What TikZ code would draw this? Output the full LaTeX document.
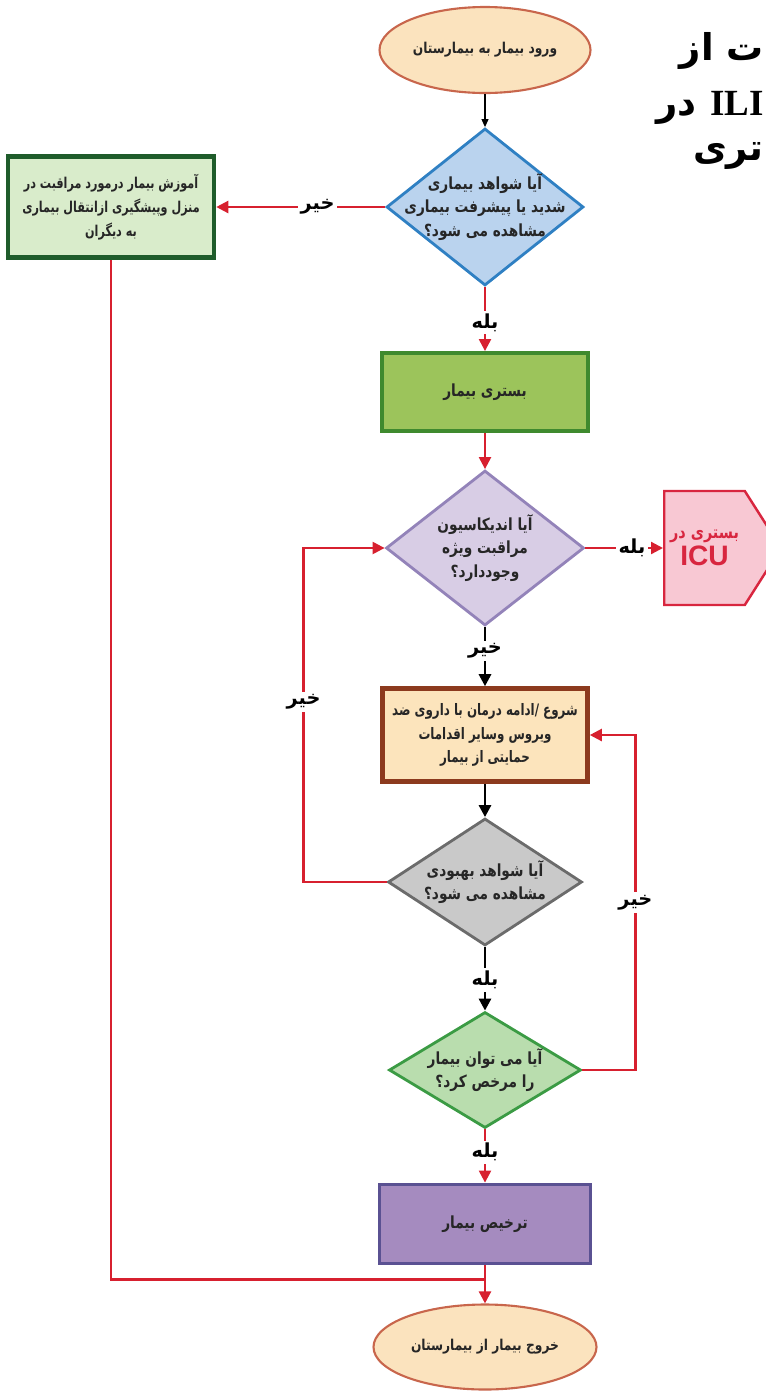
\documentclass[tikz,border=0pt]{standalone}
\usepackage{fontspec}
\usepackage{graphicx}
\usepackage{tikz}
\usetikzlibrary{shapes.geometric,shapes.symbols,arrows.meta,calc}
\TeXXeTstate=1
\newfontfamily\fa[Script=Arabic]{DejaVu Sans}
\newfontfamily\lsans{Liberation Sans}
\newfontfamily\lserif{Liberation Serif}
\newcommand{\rl}[1]{\beginR #1\endR}
\newcommand{\rls}[1]{\scalebox{0.82}[1]{\beginR #1\endR}}
\newcommand{\rlt}[1]{\scalebox{0.75}[1]{\beginR #1\endR}}

\definecolor{linered}{HTML}{D7202F}
\definecolor{ovalfill}{HTML}{FBE3BE}
\definecolor{ovaldraw}{HTML}{C8664C}
\definecolor{bluefill}{HTML}{BAD3EE}
\definecolor{bluedraw}{HTML}{2F80C3}
\definecolor{edufill}{HTML}{D9ECCB}
\definecolor{edudraw}{HTML}{1F5C2B}
\definecolor{admitfill}{HTML}{9CC45B}
\definecolor{admitdraw}{HTML}{3F8A2E}
\definecolor{lilacfill}{HTML}{D8CDE5}
\definecolor{lilacdraw}{HTML}{9383B9}
\definecolor{icufill}{HTML}{F8C8D3}
\definecolor{icudraw}{HTML}{D8263F}
\definecolor{carefill}{HTML}{FCE4BC}
\definecolor{caredraw}{HTML}{8C3A1E}
\definecolor{greyfill}{HTML}{C9C9C9}
\definecolor{greydraw}{HTML}{6B6B6B}
\definecolor{mintfill}{HTML}{B9DDAE}
\definecolor{mintdraw}{HTML}{3B9B44}
\definecolor{violetfill}{HTML}{A58BBF}
\definecolor{violetdraw}{HTML}{5A5192}

\begin{document}
\begin{tikzpicture}[x=0.2mm,y=-0.2mm,
  txt/.style={font=\fa\bfseries\fontsize{9.5}{13.5}\selectfont, align=center, text=black!85, inner sep=0pt},
  lbl/.style={font=\fa\bfseries\fontsize{11}{13}\selectfont, fill=white, inner sep=1.5pt},
  oval/.style={ellipse, draw=ovaldraw, fill=ovalfill, line width=1.2pt, txt, font=\fa\bfseries\fontsize{8.5}{12}\selectfont},
  box/.style={rectangle, txt},
  dia/.style={diamond, line width=1.6pt, inner sep=0pt},
  redline/.style={draw=linered, line width=1.3pt},
  redarrow/.style={redline, -{Triangle[length=2.4mm,width=2.4mm]}},
  blkarrow/.style={line width=1.6pt, -{Triangle[length=2.4mm,width=2.4mm]}},
  thinarrow/.style={line width=0.6pt, -{Triangle[length=1.6mm,width=1.4mm]}},
  titletxt/.style={font=\bfseries\fontsize{21}{24}\selectfont, inner sep=0pt}]
  \useasboundingbox (0,0) rectangle (766,1394);

  % title at the right edge
  \node[titletxt, anchor=base east] (title1) at (764,60) {\fa\bfseries\rl{ت از}};
  \node[titletxt, anchor=base east] (title2) at (764,115) {{\fa\bfseries\rl{در}} {\lserif\bfseries ILI}};
  \node[titletxt, anchor=base east] (title3) at (764,160) {\fa\bfseries\rl{تری}};

  \node[oval, minimum width=42.2mm, minimum height=17.2mm] (entry) at (485,50) {\rls{ورود بیمار به بیمارستان}};

  \node[dia, draw=bluedraw, fill=bluefill, minimum width=39.4mm, minimum height=31.4mm] (q1) at (485,207) {};
  \node[txt] (q1t) at (q1) {\rls{آیا شواهد بیماری}\\\rls{شدید یا پیشرفت بیماری}\\\rls{مشاهده می شود؟}};

  \node[box, draw=edudraw, fill=edufill, line width=2.6pt, minimum width=41.2mm, minimum height=20.2mm,
        font=\fa\bfseries\fontsize{8.5}{13.5}\selectfont] (edu) at (111,207) {\rlt{آموزش بیمار درمورد مراقبت در}\\\rlt{منزل وپیشگیری ازانتقال بیماری}\\\rlt{به دیگران}};

  \node[box, draw=admitdraw, fill=admitfill, line width=2.2pt, minimum width=41.2mm, minimum height=15.6mm] (admit) at (485,392) {\rls{بستری بیمار}};

  \node[dia, draw=lilacdraw, fill=lilacfill, minimum width=39.6mm, minimum height=31mm] (q2) at (485,548) {};
  \node[txt] (q2t) at (q2) {\rls{آیا اندیکاسیون}\\\rls{مراقبت ویژه}\\\rls{وجوددارد؟}};

  \node[signal, signal to=east, signal pointer angle=115, draw=icudraw, fill=icufill, line width=1.4pt,
        minimum width=20.6mm, minimum height=22.8mm, anchor=west, align=center, text=icudraw] (icu) at (663,548)
        {{\fa\bfseries\fontsize{10}{13}\selectfont\rls{بستری در}}\\[1pt]{\lsans\bfseries\fontsize{16}{17}\selectfont ICU}};

  \node[box, draw=caredraw, fill=carefill, line width=2.6pt, minimum width=41mm, minimum height=18.6mm,
        font=\fa\bfseries\fontsize{9}{13.5}\selectfont] (care) at (485,735) {\rlt{شروع /ادامه درمان با داروی ضد}\\\rlt{ویروس وسایر اقدامات}\\\rlt{حمایتی از بیمار}};

  \node[dia, draw=greydraw, fill=greyfill, minimum width=38.8mm, minimum height=25.4mm] (q3) at (485,882) {};
  \node[txt] (q3t) at (q3) {\rls{آیا شواهد بهبودی}\\\rls{مشاهده می شود؟}};

  \node[dia, draw=mintdraw, fill=mintfill, minimum width=38.4mm, minimum height=23.2mm] (q4) at (485,1070) {};
  \node[txt] (q4t) at (q4) {\rls{آیا می توان بیمار}\\\rls{را مرخص کرد؟}};

  \node[box, draw=violetdraw, fill=violetfill, line width=2.2pt, minimum width=42.2mm, minimum height=15.8mm] (disc) at (485,1224) {\rls{ترخیص بیمار}};

  \node[oval, minimum width=44.6mm, minimum height=17mm] (exit) at (485,1347) {\rls{خروج بیمار از بیمارستان}};

  % connectors
  \draw[thinarrow] (entry) -- (q1);
  \draw[redarrow] (q1.west) -- node[lbl, pos=0.4] {\rl{خیر}} (edu.east);
  \draw[redarrow] (q1.south) -- node[lbl, pos=0.56] {\rl{بله}} (admit.north);
  \draw[redarrow] (admit.south) -- (q2.north);
  \draw[redarrow] (q2.east) -- node[lbl, pos=0.6] {\rl{بله}} (icu.west);
  \draw[blkarrow] (q2.south) -- node[lbl, pos=0.4] {\rl{خیر}} (care.north);
  \draw[blkarrow] (care.south) -- (q3.north);
  \draw[redarrow] (q3.west) -- ++(-83,0) coordinate (back) -- node[lbl, pos=0.54] {\rl{خیر}} (back |- q2.west) -- (q2.west);
  \draw[blkarrow] (q3.south) -- node[lbl, pos=0.52] {\rl{بله}} (q4.north);
  \draw[redarrow] (q4.east) -- ++(53,0) coordinate (again) -- node[lbl, pos=0.5] {\rl{خیر}} (again |- care.east) -- (care.east);
  \draw[redarrow] (q4.south) -- node[lbl, pos=0.43] {\rl{بله}} (disc.north);
  \draw[redline] (edu.south) |- ($(disc.south)+(0,14)$) coordinate (join);
  \draw[redarrow] (disc.south) -- (exit.north);
\end{tikzpicture}
\end{document}
